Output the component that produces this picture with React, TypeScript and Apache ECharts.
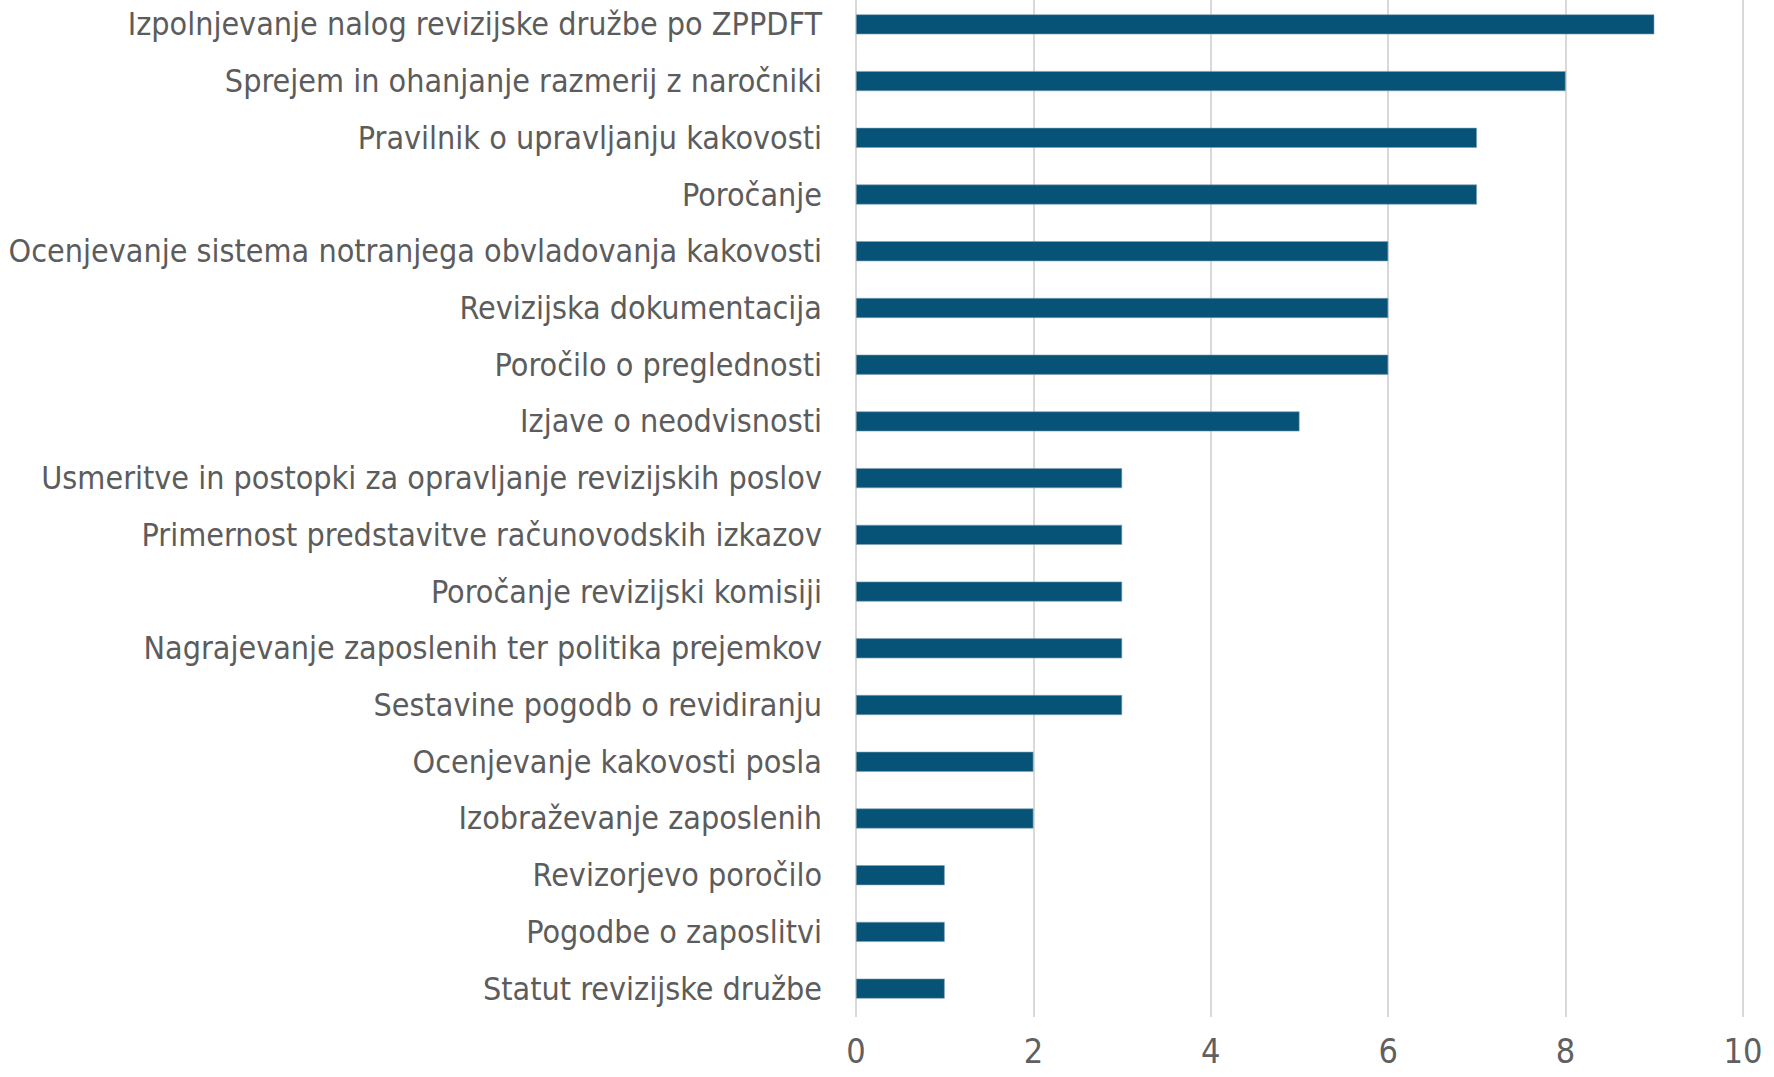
import React, { useEffect, useRef } from "react";
import * as echarts from "echarts";

const categories = [
  "Izpolnjevanje nalog revizijske družbe po ZPPDFT",
  "Sprejem in ohanjanje razmerij z naročniki",
  "Pravilnik o upravljanju kakovosti",
  "Poročanje",
  "Ocenjevanje sistema notranjega obvladovanja kakovosti",
  "Revizijska dokumentacija",
  "Poročilo o preglednosti",
  "Izjave o neodvisnosti",
  "Usmeritve in postopki za opravljanje revizijskih poslov",
  "Primernost predstavitve računovodskih izkazov",
  "Poročanje revizijski komisiji",
  "Nagrajevanje zaposlenih ter politika prejemkov",
  "Sestavine pogodb o revidiranju",
  "Ocenjevanje kakovosti posla",
  "Izobraževanje zaposlenih",
  "Revizorjevo poročilo",
  "Pogodbe o zaposlitvi",
  "Statut revizijske družbe",
];

const values = [9, 8, 7, 7, 6, 6, 6, 5, 3, 3, 3, 3, 3, 2, 2, 1, 1, 1];

const FONT = '"Liberation Sans Narrow", "DejaVu Sans Condensed", "Roboto", sans-serif';

export default function App() {
  const ref = useRef<HTMLDivElement>(null);
  useEffect(() => {
    if (!ref.current) return;
    const chart = echarts.init(ref.current, null, { renderer: "svg" });
    chart.setOption({
      animation: false,
      backgroundColor: "#ffffff",
      grid: { left: 856, right: 31, top: 0, bottom: 60, containLabel: false },
      xAxis: {
        type: "value",
        min: 0,
        max: 10,
        interval: 2,
        axisLine: { show: false },
        axisTick: { show: false },
        splitLine: { show: true, lineStyle: { color: "#d9d9d9", width: 2 } },
        axisLabel: { color: "#606060", fontSize: 34, fontFamily: FONT, margin: 17 },
      },
      yAxis: {
        type: "category",
        inverse: true,
        data: categories,
        axisLine: { show: false },
        axisTick: { show: false },
        axisLabel: { color: "#5c5c5c", fontSize: 32, fontFamily: FONT, margin: 34 },
      },
      series: [
        {
          type: "bar",
          data: values,
          barWidth: 20,
          itemStyle: { color: "#065377", borderColor: "#7f9fb3", borderWidth: 0.6 },
        },
      ],
    });
    return () => chart.dispose();
  }, []);
  return (
    <div
      ref={ref}
      style={{ position: "fixed", left: 0, top: -4, width: 1774, height: 1081, background: "#fff" }}
    />
  );
}
